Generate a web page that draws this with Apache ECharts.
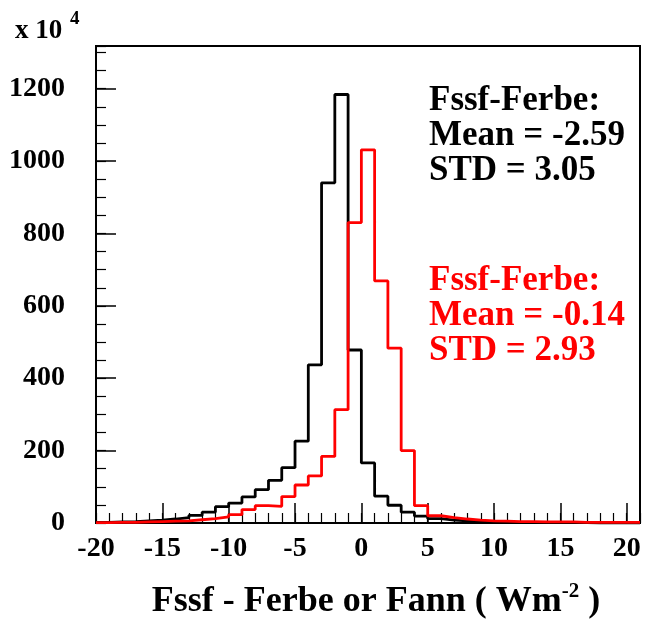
<!DOCTYPE html>
<html>
<head>
<meta charset="utf-8">
<script src="https://cdn.jsdelivr.net/npm/echarts@6/dist/echarts.min.js"></script>
<style>html,body{margin:0;padding:0;background:#fff}#c{width:645px;height:625px}</style>
</head>
<body>
<div id="c"></div>
<script>
// Left bin edges (bins are 1 unit wide), last bin closes at 21
const binEdges = [-20,-19,-18,-17,-16,-15,-14,-13,-12,-11,-10,-9,-8,-7,-6,-5,-4,-3,-2,-1,0,1,2,3,4,5,6,7,8,9,10,11,12,13,14,15,16,17,18,19,20];
const binEnd = 21;
// counts in units of 10^4
const blackCounts = [2,3,4,6,8,11,15,21,30,45,55,72,92,118,153,226,437,940,1184,478,166,74,49,30,19,12,8,6,4,3,2,2,1,1,1,1,1,0,0,0,0];
const redCounts   = [1,2,2,3,4,5,6,9,12,17,23,37,48,46,73,105,130,184,313,830,1031,669,483,200,48,20,15,11,8,6,5,4,4,3,3,3,2,2,2,2,2];
const xTicks = [-20,-15,-10,-5,0,5,10,15,20];
const yTicks = [0,200,400,600,800,1000,1200];
const blackText = ['Fssf-Ferbe:','Mean = -2.59','STD = 3.05'];
const redText = ['Fssf-Ferbe:','Mean = -0.14','STD = 2.93'];

const FONT = 'Liberation Serif';
function steps(counts){
  const d = binEdges.map((e,i)=>[e,counts[i]]);
  d.push([binEnd, counts[counts.length-1]]);
  return d;
}
const chart = echarts.init(document.getElementById('c'), null, {renderer:'canvas'});
const lbl = {fontFamily:FONT, fontWeight:'bold', fontSize:28, color:'#000'};
const gl = {left:96, right:5, top:46, bottom:102};
const option = {
  animation:false,
  grid:{...gl, show:true, borderColor:'#000', borderWidth:2, backgroundColor:'transparent'},
  xAxis:[
    {type:'value', min:-20, max:binEnd, interval:5, position:'bottom',
     axisLine:{show:true, onZero:false, lineStyle:{color:'#000', width:2}},
     axisTick:{show:true, inside:true, length:20, lineStyle:{color:'#000', width:1.5}},
     axisLabel:{...lbl, margin:12, formatter:v=> xTicks.includes(v)? String(v):''},
     splitLine:{show:false}},
    {type:'value', min:-20, max:binEnd, interval:1, position:'bottom',
     axisLine:{show:false, onZero:false},
     axisTick:{show:true, inside:true, length:10, lineStyle:{color:'#000', width:1.2}},
     axisLabel:{show:false}, splitLine:{show:false}}
  ],
  yAxis:[
    {type:'value', min:0, max:1318, interval:200, position:'left',
     axisLine:{show:true, onZero:false, lineStyle:{color:'#000', width:2}},
     axisTick:{show:true, inside:true, length:20, lineStyle:{color:'#000', width:1.5}},
     axisLabel:{...lbl, margin:31, formatter:v=> yTicks.includes(v)? String(v):''},
     splitLine:{show:false}},
    {type:'value', min:0, max:1318, interval:50, position:'left',
     axisLine:{show:false, onZero:false},
     axisTick:{show:true, inside:true, length:10, lineStyle:{color:'#000', width:1.2}},
     axisLabel:{show:false}, splitLine:{show:false}}
  ],
  series:[
    {type:'line', step:'end', showSymbol:false, symbol:'none', data:steps(blackCounts),
     lineStyle:{color:'#000', width:2.8}, z:3},
    {type:'line', step:'end', showSymbol:false, symbol:'none', data:steps(redCounts),
     lineStyle:{color:'#ff0000', width:2.8}, z:4}
  ],
  graphic:[
    ...blackText.map((t,i)=>({type:'text', x:429, y:101+i*35,
      style:{text:t, font:'bold 35px "'+FONT+'"', fill:'#000', verticalAlign:'middle', align:'left'}})),
    ...redText.map((t,i)=>({type:'text', x:429, y:281+i*35,
      style:{text:t, font:'bold 35px "'+FONT+'"', fill:'#ff0000', verticalAlign:'middle', align:'left'}})),
    {type:'text', x:15, y:31, style:{text:'x 10', font:'bold 27px "'+FONT+'"', fill:'#000', verticalAlign:'middle', align:'left'}},
    {type:'text', x:70, y:19, style:{text:'4', font:'bold 19px "'+FONT+'"', fill:'#000', verticalAlign:'middle', align:'left'}},
    {type:'text', x:376, y:602, style:{
      text:'{a|Fssf - Ferbe or Fann ( Wm}{s|-2}{a| )}',
      align:'center', verticalAlign:'middle',
      rich:{
        a:{fontFamily:FONT, fontWeight:'bold', fontSize:36, lineHeight:42, fill:'#000', color:'#000'},
        s:{fontFamily:FONT, fontWeight:'bold', fontSize:21, lineHeight:22, verticalAlign:'top', fill:'#000', color:'#000'}
      }}}
  ]
};
chart.setOption(option);
</script>
</body>
</html>
